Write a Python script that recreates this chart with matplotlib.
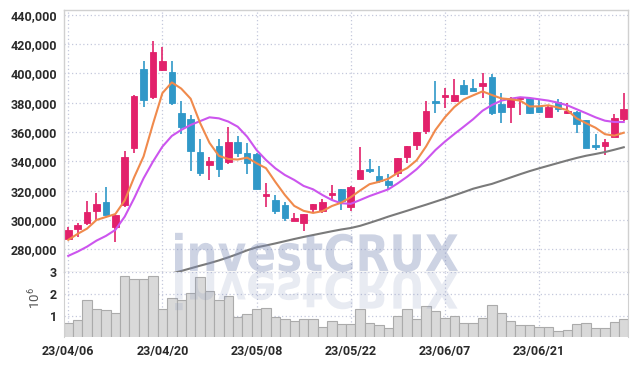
import matplotlib
matplotlib.use('Agg')
import matplotlib.pyplot as plt
import matplotlib.transforms as mtransforms
from matplotlib.textpath import TextPath
from matplotlib.patches import PathPatch
from matplotlib.font_manager import FontProperties
from matplotlib.ticker import FuncFormatter
import numpy as np

# trading days (yy/mm/dd)
dates = ['23/04/06', '23/04/07', '23/04/10', '23/04/11', '23/04/12', '23/04/13',
         '23/04/14', '23/04/17', '23/04/18', '23/04/19', '23/04/20', '23/04/21',
         '23/04/24', '23/04/25', '23/04/26', '23/04/27', '23/04/28', '23/05/02',
         '23/05/03', '23/05/04', '23/05/08', '23/05/09', '23/05/10', '23/05/11',
         '23/05/12', '23/05/15', '23/05/16', '23/05/17', '23/05/18', '23/05/19',
         '23/05/22', '23/05/23', '23/05/24', '23/05/25', '23/05/26', '23/05/30',
         '23/05/31', '23/06/01', '23/06/02', '23/06/05', '23/06/07', '23/06/08',
         '23/06/09', '23/06/12', '23/06/13', '23/06/14', '23/06/15', '23/06/16',
         '23/06/19', '23/06/20', '23/06/21', '23/06/22', '23/06/23', '23/06/26',
         '23/06/27', '23/06/28', '23/06/29', '23/06/30', '23/07/03', '23/07/04']

opens = [287300, 293700, 297800, 306400, 312300, 295400, 310400, 349100, 403200, 384100,
         402300, 400900, 373200, 369100, 346400, 337700, 350500, 339600, 353200, 345900,
         345000, 316400, 313600, 310000, 299500, 297800, 307700, 305900, 316800, 320900,
         309100, 328200, 335000, 330000, 326800, 331900, 343200, 351400, 360900, 381400,
         384100, 381400, 391900, 390000, 391600, 397700, 379100, 376900, 382300, 383000,
         377300, 370400, 380500, 373200, 373700, 368200, 350900, 350500, 356800, 368700]
highs = [295000, 298200, 312800, 318200, 322300, 303500, 347300, 385000, 408200, 422300,
         417800, 408200, 381400, 371800, 355000, 343000, 355000, 363200, 357300, 352300,
         345500, 325000, 317300, 312300, 305000, 304300, 311000, 314500, 324100, 321300,
         323000, 349600, 341400, 336800, 331400, 342300, 350500, 360000, 381400, 395000,
         390000, 396400, 395500, 395900, 400000, 399600, 386400, 384100, 384100, 383500,
         382300, 378600, 382700, 380000, 374000, 368500, 358600, 355400, 372300, 386400]
lows = [286500, 288200, 296800, 300000, 303200, 285000, 309100, 345500, 376900, 382300,
        401400, 378200, 358600, 333200, 330000, 327300, 329100, 338200, 342800, 331400,
        321000, 309100, 304100, 299500, 299100, 292700, 304600, 304600, 313600, 306800,
        306300, 327800, 331900, 325400, 321300, 329100, 338700, 347700, 358600, 373000,
        376400, 380400, 385200, 388000, 383000, 371600, 365900, 366400, 371600, 372300,
        372800, 370000, 373400, 372300, 359100, 349000, 347700, 344500, 356500, 367700]
closes = [293200, 296800, 305500, 310900, 303600, 303200, 343200, 384600, 381800, 414600,
          408200, 379600, 363600, 347300, 332300, 340200, 335000, 353200, 345500, 338700,
          321300, 317700, 306300, 301400, 301400, 304100, 310900, 312300, 318600, 313200,
          322500, 334100, 333600, 326800, 323700, 342300, 350500, 360000, 374100, 380000,
          385400, 385400, 385900, 388200, 393400, 373200, 373900, 383000, 383700, 373200,
          373900, 377300, 375500, 374500, 365300, 349300, 350000, 353200, 369600, 375500]

ma5 = [286400, 290500, 294100, 300000, 302000, 304000, 313300, 329100, 343300, 365500,
       386500, 393800, 389600, 382700, 366200, 352600, 343700, 341600, 341200, 342500,
       338700, 335300, 325900, 317100, 309600, 306200, 304800, 306000, 309500, 311800,
       315500, 320100, 324400, 326000, 328100, 332100, 335400, 340700, 350100, 361400,
       370000, 377000, 382200, 385000, 387700, 385200, 382900, 382300, 381400, 377400,
       377500, 378200, 376700, 374900, 369300, 366000, 362900, 358500, 357500, 359500]
ma20 = [275500, 278400, 281800, 285900, 289100, 293200, 302300, 314800, 328400, 339800,
        350000, 357300, 361400, 364800, 367400, 370000, 369300, 367100, 363600, 356800,
        347700, 340900, 335200, 330700, 327300, 323200, 320900, 317000, 313600, 311400,
        311000, 313600, 316300, 318600, 320900, 325000, 329500, 334600, 340900, 347700,
        353400, 358600, 363600, 368700, 374500, 378400, 381400, 382700, 383700, 383200,
        382300, 381400, 380000, 378200, 375500, 372800, 370000, 367700, 366800, 366800]
ma60 = [np.nan] * 11 + [
        263500, 265200, 267000, 268800, 270500, 272400, 274500, 276800, 279300,
        281300, 282600, 284000, 285500, 287000, 288400, 289700, 291000, 292300, 293500,
        294500, 296000, 298000, 300100, 302300, 304300, 306300, 308400, 310400, 312500,
        314600, 316800, 319000, 321300, 323000, 324600, 326800, 329000, 331200, 333300,
        335200, 337000, 338800, 340600, 342300, 343800, 345000, 346300, 347900, 349600]

# volume in millions
volume = [0.69, 0.83, 1.75, 1.34, 1.28, 1.15, 2.81, 2.67, 2.67, 2.81,
          1.34, 1.80, 1.71, 2.03, 2.77, 2.12, 1.71, 1.89, 0.98, 1.11,
          1.34, 1.38, 0.98, 0.88, 0.77, 0.88, 0.88, 0.51, 0.78, 0.65,
          0.65, 1.34, 0.69, 0.60, 0.45, 1.00, 1.34, 0.88, 1.47, 1.21,
          0.92, 1.01, 0.69, 0.69, 0.91, 1.52, 1.15, 0.78, 0.60, 0.60,
          0.49, 0.49, 0.32, 0.37, 0.65, 0.69, 0.46, 0.46, 0.74, 0.88]

price_ticks = list(range(280000, 440001, 20000))
vol_ticks = [1, 2, 3]

UP = '#e2216b'
DOWN = '#3098c8'
GRID = '#c4c8dc'
SPINE = '#d0d0d0'
TXT = '#2a2a2a'

plt.rcParams['font.family'] = ['Roboto', 'DejaVu Sans']
plt.rcParams['mathtext.default'] = 'regular'

W, H = 638, 366
fig = plt.figure(figsize=(W / 100, H / 100), dpi=100)
ax = fig.add_axes([64 / W, 1 - 272 / H, 564 / W, 262 / H])
axv = fig.add_axes([64 / W, 1 - 337 / H, 564 / W, 65 / H], sharex=ax)

x = np.arange(len(dates))
o = np.array(opens); c = np.array(closes)
hi = np.array(highs); lo = np.array(lows)
up = c >= o
cols = np.where(up, UP, DOWN)

# wicks and bodies
ax.vlines(x, lo, hi, colors=cols, linewidth=1.2, zorder=3)
body_bottom = np.minimum(o, c)
body_h = np.maximum(np.abs(c - o), 900)
ax.bar(x, body_h, bottom=body_bottom, width=0.7, color=cols,
       edgecolor=cols, linewidth=0.6, zorder=4)

ax.plot(x, ma60, color='#7a7a7a', linewidth=1.5, zorder=5)
ax.plot(x, ma20, color='#cc55ee', linewidth=1.5, zorder=5)
ax.plot(x, ma5, color='#f08a4c', linewidth=1.5, zorder=5)

ax.set_ylim(264500, 443200)
ax.set_xlim(-0.45, 59.45)
ax.set_yticks(price_ticks)
ax.yaxis.set_major_formatter(FuncFormatter(lambda v, p: f'{int(v):,}'))
tick_idx = list(range(0, len(dates), 10))
ax.set_xticks(tick_idx)
ax.tick_params(axis='x', labelbottom=False, length=0)
ax.tick_params(axis='y', length=0, pad=5, labelsize=9, labelcolor=TXT)
for lab in ax.get_yticklabels():
    lab.set_fontweight('bold')
ax.grid(True, color=GRID, linestyle=(0, (1, 2)), linewidth=0.9, zorder=0)
for s in ax.spines.values():
    s.set_color(SPINE)
    s.set_linewidth(1)

# volume
axv.bar(x, volume, width=1.0, color='#d9d9d9', edgecolor='#ababab',
        linewidth=0.8, zorder=2)
axv.set_ylim(0.05, 3.0)
axv.set_yticks(vol_ticks)
axv.set_xticks(tick_idx)
axv.set_xticklabels([dates[i] for i in tick_idx])
axv.tick_params(axis='both', length=0, labelsize=9, labelcolor=TXT)
axv.tick_params(axis='x', pad=6)
axv.tick_params(axis='y', pad=5)
for lab in axv.get_xticklabels() + axv.get_yticklabels():
    lab.set_fontweight('bold')
axv.grid(True, color=GRID, linestyle=(0, (1, 2)), linewidth=0.9, zorder=0)
axv.spines['top'].set_visible(False)
axv.spines['bottom'].set_visible(False)
for s in ['left', 'right']:
    axv.spines[s].set_color(SPINE)
fig.text(35 / W, 1 - 298 / H, r'$10^6$', rotation=90, ha='center', va='center',
         fontsize=9.5, color='#555555')

# watermark with reflection
fp = FontProperties(family='DejaVu Sans', weight='bold')
tp = TextPath((0, 0), 'investCRUX', size=1, prop=fp)
ext = tp.get_extents()
cap = TextPath((0, 0), 'C', size=1, prop=fp).get_extents()
sx = 283 / ext.width
sy = 38 / cap.height
x0, base = 175, H - 271
tr = mtransforms.Affine2D().translate(-ext.x0, 0).scale(sx, sy).translate(x0, base) \
    .scale(1 / W, 1 / H) + fig.transFigure
fig.add_artist(PathPatch(tp, transform=tr, facecolor='#8291bb', edgecolor='none',
                         alpha=0.4, zorder=10))
tr2 = mtransforms.Affine2D().translate(-ext.x0, 0).scale(sx, -sy).translate(x0, base - 1) \
    .scale(1 / W, 1 / H) + fig.transFigure
fig.add_artist(PathPatch(tp, transform=tr2, facecolor='#8291bb', edgecolor='none',
                         alpha=0.18, zorder=10))

fig.savefig('out.png', dpi=100)
